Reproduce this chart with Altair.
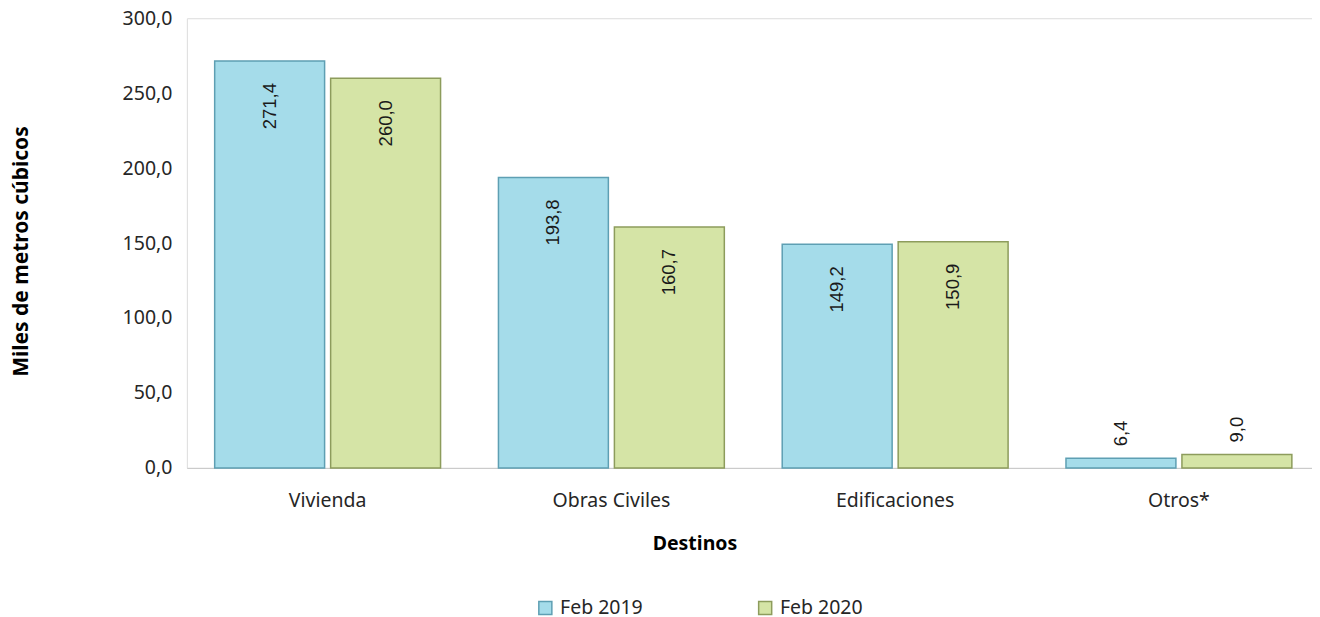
import altair as alt
import pandas as pd

categories = ["Vivienda", "Obras Civiles", "Edificaciones", "Otros*"]
series = ["Feb 2019", "Feb 2020"]
feb_2019 = [271.4, 193.8, 149.2, 6.4]
feb_2020 = [260.0, 160.7, 150.9, 9.0]
y_ticks = [0, 50, 100, 150, 200, 250, 300]

rows = []
for c, a, b in zip(categories, feb_2019, feb_2020):
    rows.append({"Destino": c, "Serie": series[0], "valor": a})
    rows.append({"Destino": c, "Serie": series[1], "valor": b})
df = pd.DataFrame(rows)

FONT = "Noto Sans"
FS = 19.5
fill_scale = alt.Scale(domain=series, range=["#a5dcea", "#d5e4a6"])
stroke_scale = alt.Scale(domain=series, range=["#5e9fb3", "#8d9c5c"])

x_enc = alt.X("Destino:N", sort=categories, title="Destinos",
              scale=alt.Scale(paddingInner=0.204, paddingOuter=0.0845, align=0.58),
              axis=alt.Axis(labelAngle=0, ticks=False, domainColor="#c8c8c8",
                            labelPadding=24, titlePadding=24, titleX=508,
                            labelFontSize=FS, titleFontSize=FS, labelFont=FONT, titleFont=FONT,
                            labelColor="#262626", titleColor="#000000", titleFontWeight="bold"))
xo = alt.XOffset("Serie:N", sort=series, scale=alt.Scale(paddingInner=0.052))
y_enc = alt.Y("valor:Q", title="Miles de metros cúbicos",
              scale=alt.Scale(domain=[0, 300], nice=False),
              axis=alt.Axis(values=y_ticks, grid=False, domain=False, ticks=False,
                            labelExpr="replace(format(datum.value, '.1f'), '.', ',')",
                            labelPadding=15, titlePadding=91, titleY=233,
                            labelFontSize=FS, titleFontSize=21, labelFont=FONT, titleFont=FONT,
                            labelColor="#262626", titleColor="#000000", titleFontWeight="bold"))

base = alt.Chart(df).transform_calculate(
    label="replace(format(datum.valor, '.1f'), '.', ',')"
)

bars = base.mark_bar(strokeWidth=1.5).encode(
    x=x_enc, xOffset=xo, y=y_enc,
    fill=alt.Fill("Serie:N", scale=fill_scale, sort=series,
                  legend=alt.Legend(title=None, orient="none", direction="horizontal",
                                    legendX=349, legendY=580, symbolType="square",
                                    symbolSize=170, symbolStrokeWidth=1.5,
                                    labelFontSize=FS, labelFont=FONT, labelColor="#262626",
                                    columnPadding=112, columns=2, labelOffset=5)),
    stroke=alt.Stroke("Serie:N", scale=stroke_scale, sort=series, legend=None),
)

inside = base.transform_filter("datum.valor >= 30").mark_text(
    angle=270, align="right", baseline="middle", yOffset=22,
    fontSize=18.5, font="Liberation Sans", color="#1a1a1a"
).encode(x=alt.X("Destino:N", sort=categories), xOffset=xo, y=alt.Y("valor:Q"), text="label:N")

outside = base.transform_filter("datum.valor < 30").mark_text(
    angle=270, align="left", baseline="middle", yOffset=-12,
    fontSize=18.5, font="Liberation Sans", color="#1a1a1a"
).encode(x=alt.X("Destino:N", sort=categories), xOffset=xo, y=alt.Y("valor:Q"), text="label:N")

chart = alt.layer(bars, inside, outside).properties(
    width=1126, height=450, padding={"left": 2, "top": 0, "right": 0, "bottom": 2}
).configure_view(stroke=None).configure(background="white")

chart.save("out.html", embed_options={"renderer": "svg", "actions": False})
